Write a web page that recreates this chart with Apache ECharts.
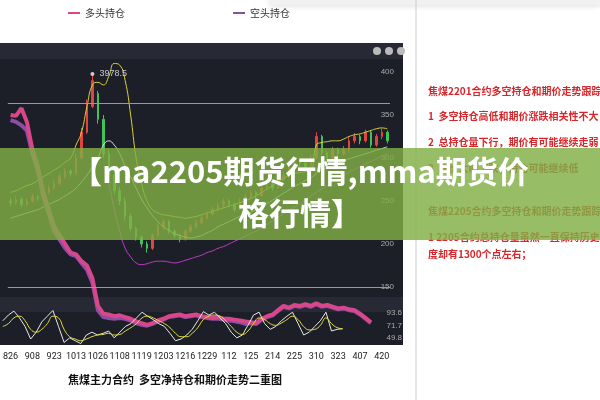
<!DOCTYPE html>
<html><head><meta charset="utf-8">
<script src="https://cdn.jsdelivr.net/npm/echarts@6/dist/echarts.min.js"></script>
<style>html,body{margin:0;padding:0;background:#fff}#c{width:600px;height:400px}</style>
</head><body><div id="c"></div>
<script>
const dateLabels = ['826','908','923','1013','1026','1108','1119','1203','1216','1229','112','125','214','225','310','323','407','420'];
// candles [open, close, low, high]
const candles = [
[2500,2480,2440,2540],[2480,2520,2460,2560],[2520,2460,2430,2540],[2460,2500,2440,2530],[2500,2550,2480,2580],
[2550,2530,2500,2570],[2530,2600,2520,2640],[2600,2650,2580,2680],[2650,2700,2630,2740],[2700,2780,2680,2820],
[2780,2850,2760,2880],[2850,2820,2790,2870],[2820,3000,2800,3050],[3000,3300,2980,3350],[3300,3600,3280,3680],
[3600,3900,3580,3978.5],[3750,3450,3400,3780],[3450,3050,3000,3500],[3050,2800,2760,3100],[2800,2620,2580,2850],
[2620,2500,2450,2660],[2500,2320,2280,2540],[2320,2180,2150,2360],[2180,2080,2040,2200],[2080,2000,1960,2100],
[2000,1950,1900,2030],[1950,2100,1930,2120],[2100,2200,2080,2240],[2200,2260,2170,2290],[2260,2150,2120,2280],
[2150,2100,2070,2170],[2100,2060,2020,2120],[2060,2150,2040,2170],[2150,2200,2130,2230],[2200,2250,2180,2280],
[2250,2300,2230,2330],[2300,2350,2280,2380],[2350,2400,2330,2430],[2400,2450,2380,2480],[2450,2500,2420,2530],
[2500,2460,2430,2520],[2460,2400,2370,2480],[2400,2500,2390,2530],[2500,2550,2480,2580],[2550,2600,2530,2630],
[2600,2560,2530,2620],[2560,2650,2550,2680],[2650,2700,2630,2730],[2700,2650,2620,2720],[2650,2750,2640,2780],
[2750,2800,2730,2840],[2800,2900,2780,2940],[2900,2950,2880,2990],[2950,2940,2900,2980],[2940,2900,2870,2960],
[2900,3000,2890,3040],[3000,3250,2980,3300],[3250,3060,3030,3270],[3060,3000,2970,3080],[3000,3100,2980,3130],
[3100,3050,3020,3120],[3050,3100,3030,3140],[3100,3200,3080,3240],[3200,3250,3170,3290],[3250,3200,3160,3270],
[3200,3300,3180,3330],[3300,3150,3120,3320],[3150,3250,3130,3280],[3250,3300,3220,3340],[3300,3200,3170,3320]
];
const bandUpper = [2600,2620,2650,2680,2700,2740,2780,2820,2860,2900,2950,3000,3150,3300,3600,3850,3880,3850,3950,4100,4080,3900,3500,3000,2700,2500,2400,2360,2340,2330,2320,2310,2300,2310,2320,2340,2360,2380,2400,2420,2440,2460,2480,2500,2530,2560,2600,2640,2680,2720,2760,2800,2820,2830,2840,2850,3150,3180,3190,3200,3200,3220,3250,3270,3280,3300,3320,3340,3350,3340];
const bandMiddle = [2300,2320,2340,2360,2380,2400,2430,2460,2490,2520,2560,2600,2650,2720,2800,2900,3000,3150,3200,3150,3050,2900,2780,2650,2520,2420,2330,2260,2200,2160,2120,2100,2080,2070,2080,2100,2130,2160,2200,2230,2260,2290,2320,2340,2370,2400,2430,2470,2510,2550,2590,2630,2670,2700,2740,2770,2820,2860,2890,2910,2940,2960,2990,3010,3030,3050,3070,3090,3110,3130];
const bandLower = [null,null,null,null,null,null,null,null,null,null,null,null,null,null,null,null,null,2900,2700,2400,2150,1950,1850,1780,1760,1770,1790,1800,1800,1790,1780,1790,1810,1830,1850,1870,1900,1920,1950,1970,2000,2030,2060,2090,2120,2150,2190,2230,2270,2310,2350,2390,2430,2470,2510,2560,2600,2640,2680,2720,2760,2800,2840,2870,2900,2930,2960,2990,3020,3050];
const longHold = [3500,3490,3580,3420,3100,2900,2600,2400,2200,2100,2000,1900,1880,1800,1750,1600,1280,1190,1180,1160,1170,1150,1130,1100,1080,1060,1080,1110,1130,1160,1170,1180,1160,1170,1180,1160,1150,1140,1150,1130,1130,1120,1110,1100,1090,1080,1130,1160,1180,1230,1280,1260,1290,1280,1300,1280,1310,1280,1290,1270,1250,1260,1240,1230,1190,1140,1090,null,null,null];
const shortHold = [3440,3420,3380,3320,3050,2850,2550,2350,2150,2050,1950,1880,1860,1780,1700,1550,1230,1150,1140,1130,1140,1130,1110,1080,1060,1050,1070,1100,1120,1150,1160,1170,1150,1160,1170,1150,1140,1130,1130,1120,1110,1100,1090,1070,1080,1070,1120,1150,1170,1220,1270,1250,1280,1270,1290,1270,1300,1270,1280,1260,1240,1250,1230,1220,1180,1130,1080,null,null,null];
const oscK = [80,90,97,85,70,48,60,78,88,98,70,42,50,45,40,55,60,55,58,62,50,60,70,75,85,95,88,82,75,70,58,45,48,55,65,80,96,90,95,85,75,60,50,55,72,90,95,75,65,70,80,88,95,75,55,60,70,80,95,62,65,66,null,null,null,null,null,null,null,null];
const oscD = [70,75,85,88,80,65,60,65,75,88,85,65,52,48,45,48,52,55,56,58,55,56,62,68,75,85,88,85,80,75,68,58,52,52,58,68,82,88,90,88,80,70,60,56,62,75,85,82,75,72,76,82,88,82,70,64,65,72,85,75,68,66,null,null,null,null,null,null,null,null];
const priceTicks = [1500,2000,2500,3000,3500,4000];
const oscTicks = [49.8,71.7,93.6];

const cats = candles.map((_, i) => i % 4 === 0 ? dateLabels[i / 4] : '');
const chart = echarts.init(document.getElementById('c'));
const F = '"Noto Sans CJK SC", sans-serif';
chart.setOption({
  animation: false,
  backgroundColor: '#fff',
  legend: [
    {left: 63, top: 3, itemWidth: 12, itemHeight: 2, icon: 'rect', data: ['多头持仓'], textStyle: {fontSize: 10, color: '#333', fontFamily: F}},
    {left: 228, top: 3, itemWidth: 12, itemHeight: 2, icon: 'rect', data: ['空头持仓'], textStyle: {fontSize: 10, color: '#333', fontFamily: F}}
  ],
  graphic: [
    {type: 'rect', shape: {x: 0, y: 43, width: 403, height: 302}, style: {fill: '#1d1f28'}, z: -10},
    {type: 'rect', shape: {x: 0, y: 43, width: 403, height: 16}, style: {fill: '#272a35'}, z: -9},
    {type: 'rect', shape: {x: 0, y: 297, width: 403, height: 15}, style: {fill: '#272a35'}, z: -9},
    {type: 'rect', shape: {x: 270, y: 0, width: 330, height: 5}, style: {fill: '#f1f1f1', shadowBlur: 6, shadowColor: 'rgba(0,0,0,0.2)'}},
    {type: 'line', shape: {x1: 416, y1: 0, x2: 416, y2: 400}, style: {stroke: '#ccc', lineWidth: 1}},
    {type: 'circle', shape: {cx: 377, cy: 51, r: 4}, style: {fill: '#bbb'}},
    {type: 'circle', shape: {cx: 389, cy: 51, r: 4}, style: {fill: '#bbb'}},
    {type: 'circle', shape: {cx: 401, cy: 51, r: 4}, style: {fill: '#bbb'}},
    {type: 'text', left: 68, top: 374, style: {text: '焦煤主力合约  多空净持仓和期价走势二重图', font: 'bold 11px ' + F, fill: '#111'}},
    {type: 'group', left: 428, top: 86, children: [
      {type: 'text', x: 0, y: 0, style: {text: '焦煤2201合约多空持仓和期价走势跟踪', font: 'bold 10px ' + F, fill: '#d9262a'}},
      {type: 'text', x: 0, y: 25, style: {text: '1  多空持仓高低和期价涨跌相关性不大', font: 'bold 10px ' + F, fill: '#d9262a'}},
      {type: 'text', x: 0, y: 51, style: {text: '2  总持仓量下行，期价有可能继续走弱', font: 'bold 10px ' + F, fill: '#d9262a'}},
      {type: 'text', x: 0, y: 77, style: {text: '3  期价大幅下跌，持仓可能继续低', font: 'bold 10px ' + F, fill: '#d9262a'}},
      {type: 'text', x: 0, y: 120, style: {text: '焦煤2205合约多空持仓和期价走势跟踪', font: 'bold 10px ' + F, fill: '#d9262a'}},
      {type: 'text', x: 0, y: 146, style: {text: '1 2205合约总持仓量虽然一直保持历史', font: 'bold 10px ' + F, fill: '#d9262a'}},
      {type: 'text', x: 0, y: 163, style: {text: '度却有1300个点左右；', font: 'bold 10px ' + F, fill: '#d9262a'}}
    ]},
    {type: 'rect', shape: {x: 0, y: 148, width: 600, height: 92}, style: {fill: 'rgba(128,175,70,0.82)'}, z: 100},
    {type: 'text', x: 300, y: 171, z: 101, style: {text: '【ma2205期货行情,mma期货价', font: 'bold 31px ' + F, fill: '#fff', align: 'center', verticalAlign: 'middle', shadowBlur: 3, shadowColor: 'rgba(0,0,0,0.35)'}},
    {type: 'text', x: 300, y: 213, z: 101, style: {text: '格行情】', font: 'bold 31px ' + F, fill: '#fff', align: 'center', verticalAlign: 'middle', shadowBlur: 3, shadowColor: 'rgba(0,0,0,0.35)'}}
  ],
  grid: [
    {left: 0, width: 390, top: 60, height: 285},
    {left: 0, width: 390, top: 300, height: 45}
  ],
  xAxis: [
    {type: 'category', data: cats, gridIndex: 0, axisLine: {show: false}, axisTick: {show: false},
     axisLabel: {interval: 0, color: '#222', fontSize: 9, margin: 7, fontFamily: 'Roboto'}},
    {type: 'category', data: cats, gridIndex: 1, show: false}
  ],
  yAxis: [
    {gridIndex: 0, position: 'right', min: 825, max: 4140, splitLine: {show: false}, axisLine: {show: false}, axisTick: {show: false},
     axisLabel: {customValues: priceTicks, inside: true, color: '#aaa', fontSize: 8, formatter: v => String(v).slice(0, 3), margin: -4}},
    {gridIndex: 1, position: 'right', min: 37.5, max: 116.4, splitLine: {show: false}, axisLine: {show: false}, axisTick: {show: false},
     axisLabel: {customValues: oscTicks, inside: true, color: '#aaa', fontSize: 8, margin: -12}}
  ],
  series: [
    {type: 'candlestick', data: candles, barWidth: 2, itemStyle: {color: '#e2453d', color0: '#43c25b', borderColor: '#e2453d', borderColor0: '#43c25b'},
     markPoint: {symbol: 'circle', symbolSize: 4, itemStyle: {color: '#ccc'}, data: [{coord: [15, 3978.5], value: '3978.5'}],
       label: {position: 'right', color: '#ccc', fontSize: 9, formatter: '3978.5'}},
     markLine: {symbol: 'none', silent: true, label: {show: false}, lineStyle: {color: '#999', type: 'solid', width: 1}, data: [{yAxis: 3640}, {yAxis: 1500}]}},
    {type: 'line', data: bandUpper, symbol: 'none', smooth: true, lineStyle: {color: '#d8d23a', width: 1}},
    {type: 'line', data: bandMiddle, symbol: 'none', smooth: true, lineStyle: {color: '#dddddd', width: 1}},
    {type: 'line', data: bandLower, symbol: 'none', smooth: true, lineStyle: {color: '#c23ad0', width: 1}},
    {name: '空头持仓', type: 'line', data: shortHold, symbol: 'none', itemStyle: {color: '#8b4ea5'}, lineStyle: {color: '#8b4ea5', width: 4}},
    {name: '多头持仓', type: 'line', data: longHold, symbol: 'none', itemStyle: {color: '#d9468a'}, lineStyle: {color: '#d9468a', width: 4}},
    {type: 'line', xAxisIndex: 1, yAxisIndex: 1, data: oscK, symbol: 'none', lineStyle: {color: '#e8e8e8', width: 1}},
    {type: 'line', xAxisIndex: 1, yAxisIndex: 1, data: oscD, symbol: 'none', smooth: true, lineStyle: {color: '#e0dc3c', width: 1}}
  ]
});
</script></body></html>
